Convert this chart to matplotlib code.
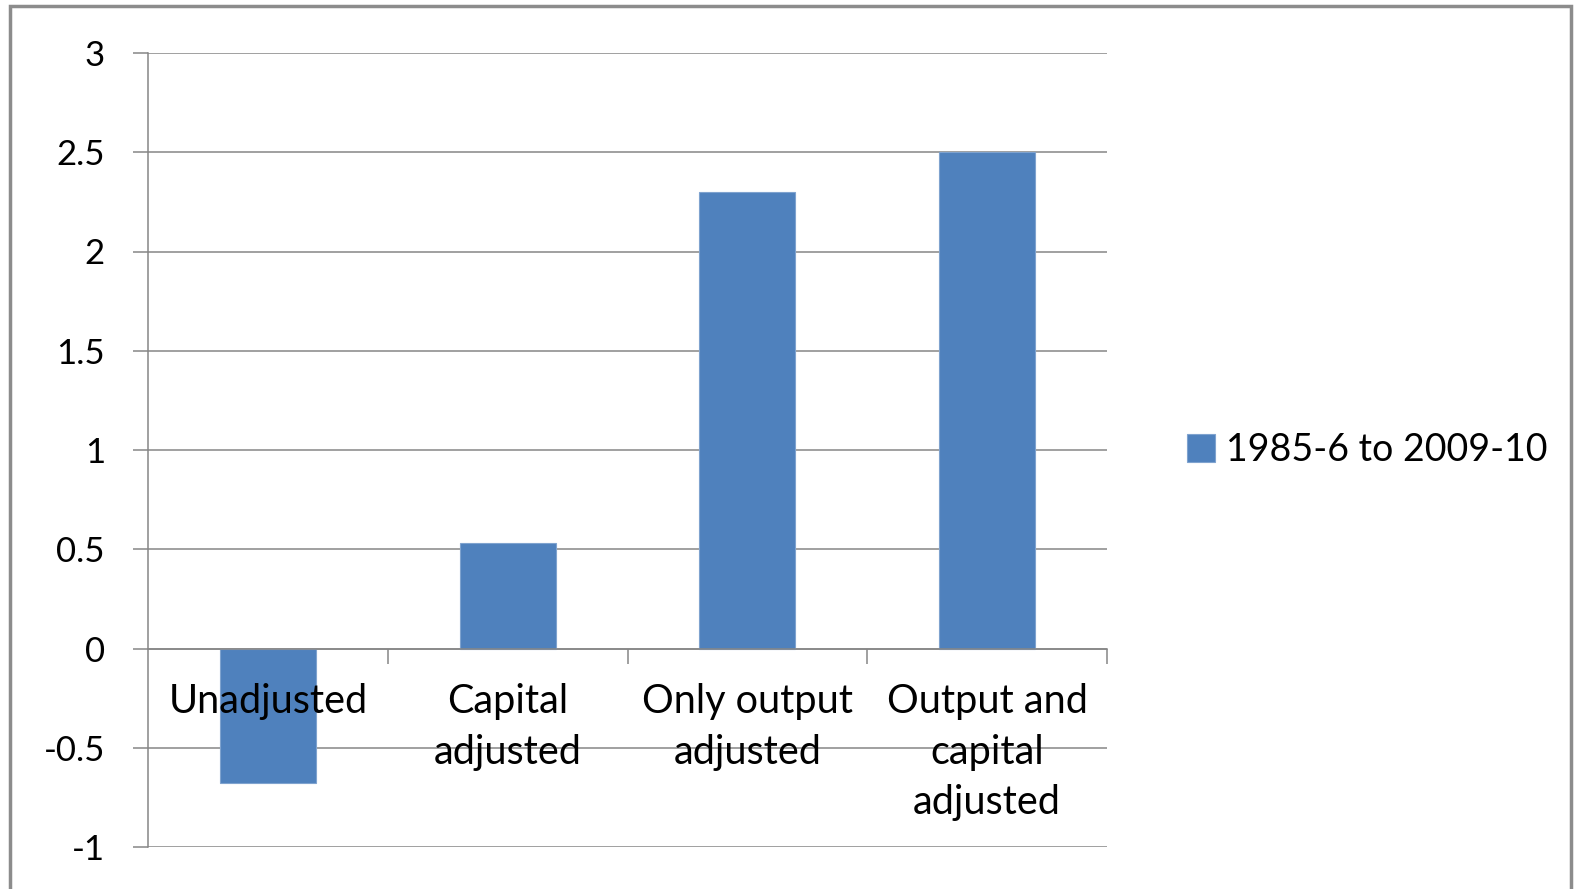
import matplotlib.pyplot as plt
from matplotlib.patches import Rectangle

# данные
categories = ['Unadjusted', 'Capital\nadjusted', 'Only output\nadjusted',
              'Output and\ncapital\nadjusted']
values = [-0.68, 0.53, 2.30, 2.50]
series_name = '1985-6 to 2009-10'
yticks = [-1, -0.5, 0, 0.5, 1, 1.5, 2, 2.5, 3]
ytick_labels = ['-1', '-0.5', '0', '0.5', '1', '1.5', '2', '2.5', '3']

plt.rcParams['font.family'] = ['Lato', 'DejaVu Sans']
grid_col = '#868686'
bar_col = '#4F81BD'

fig = plt.figure(figsize=(15.83, 8.89), dpi=100)
W, H = 1583, 889
ax = fig.add_axes([148 / W, 1 - 847 / H, (1107 - 148) / W, (847 - 53) / H])

x = range(len(categories))
ax.bar(x, values, width=0.4, color=bar_col, edgecolor='#7FA3CF', linewidth=0.8,
       label=series_name, zorder=2)

ax.set_xlim(-0.5, len(categories) - 0.5)
ax.set_ylim(-1, 3)
ax.set_yticks(yticks)
ax.set_yticklabels(ytick_labels, fontsize=25)
ax.yaxis.grid(True, color=grid_col, linewidth=1.1)
# сетка под столбцами, подписи категорий поверх
ax.yaxis.set_zorder(1)
ax.xaxis.set_zorder(5)

# ось X на нуле, подписи категорий под ней
ax.spines['bottom'].set_position(('data', 0))
ax.spines['bottom'].set_color(grid_col)
ax.spines['bottom'].set_linewidth(1.1)
ax.spines['left'].set_color(grid_col)
ax.spines['left'].set_linewidth(1.1)
ax.spines['top'].set_visible(False)
ax.spines['right'].set_visible(False)

ax.set_xticks(x)
ax.set_xticklabels(categories, fontsize=28.5, linespacing=1.45)
ax.set_xticks([i + 0.5 for i in x], minor=True)
ax.tick_params(axis='x', which='major', length=0, pad=25)
ax.tick_params(axis='x', which='minor', length=11, width=1.1, color=grid_col)
ax.tick_params(axis='y', length=11, width=1.1, color=grid_col, pad=20)

leg = ax.legend(loc='center left', bbox_to_anchor=(1.048, 0.5), frameon=False,
                fontsize=27, handlelength=0.75, handleheight=0.75, handletextpad=0.3)

# рамка вокруг диаграммы
fig.patches.append(Rectangle((10 / W, -0.05), (1571 - 10) / W, 1.05 - 6 / H,
                             transform=fig.transFigure, fill=False,
                             edgecolor='#8C8C8C', linewidth=2.5))

fig.savefig('out.png', dpi=100)
